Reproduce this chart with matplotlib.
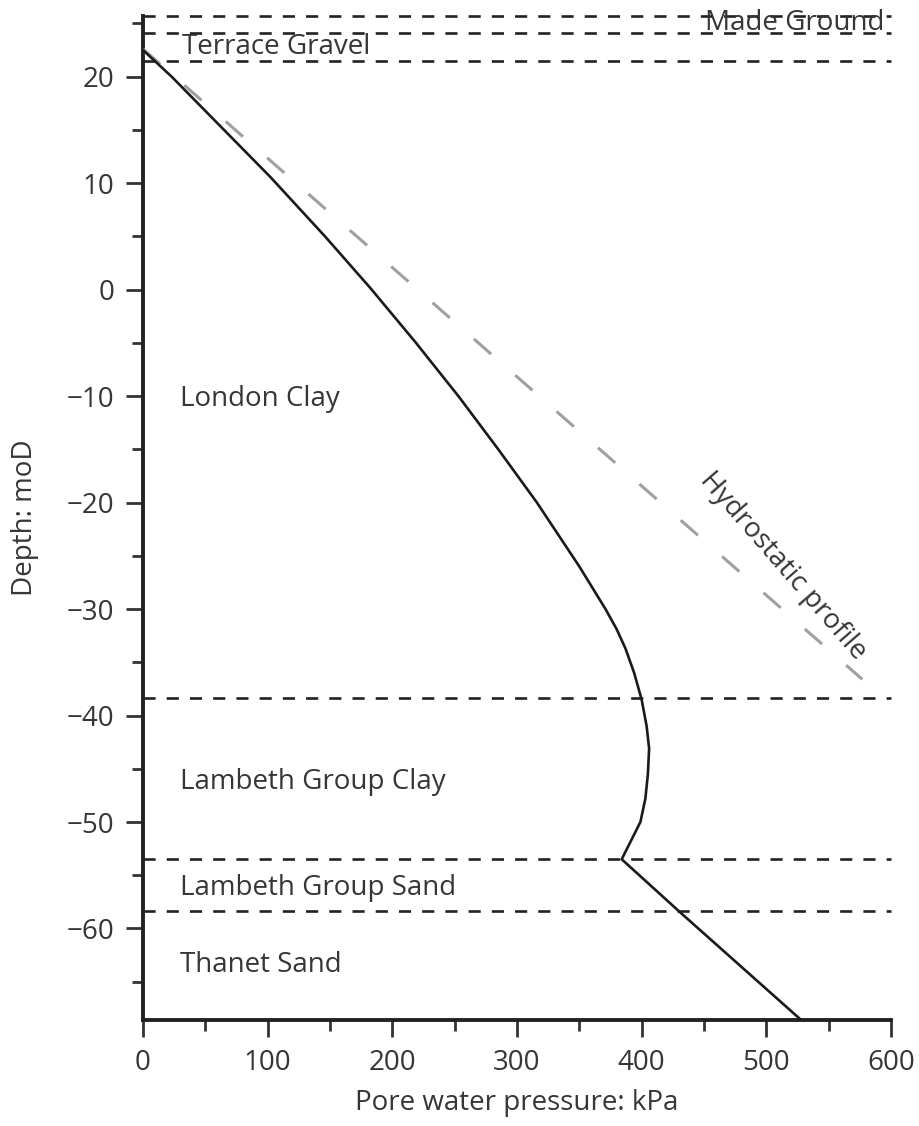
import numpy as np
import matplotlib
matplotlib.use("Agg")
import matplotlib.pyplot as plt
from matplotlib.ticker import MultipleLocator

pwp_kpa = [0, 23, 65, 102, 146, 182, 219, 238, 253, 285, 316, 350, 371, 380, 387, 394, 400,
           404, 406, 405, 403, 399, 384, 432, 528]
pwp_z = [22.5, 20.0, 15.0, 10.6, 5.0, 0.2, -5.0, -7.8, -10.0, -15.0, -20.0, -26.0, -30.0, -31.9,
         -33.7, -36.0, -38.5, -41.0, -43.1, -45.5, -47.8, -50.0, -53.5, -58.6, -68.6]

# hydrostatic line
hydro_kpa = [0, 577]
hydro_z = [22.6, -36.6]

# layer boundaries (mOD)
boundaries = [25.7, 24.1, 21.5, -38.4, -53.5, -58.4]

layer_names = ["Terrace Gravel", "London Clay", "Lambeth Group Clay", "Lambeth Group Sand", "Thanet Sand"]
layer_label_z = [22.8, -10.3, -46.2, -56.2, -63.4]

plt.rcParams['font.family'] = ['Open Sans', 'DejaVu Sans']
txt = "#363636"
fs = 20

fig = plt.figure(figsize=(9.19, 11.26), dpi=100)
ax = fig.add_axes([0.1556, 0.0941, 0.8139, 0.8917])

for zb in boundaries:
    ax.plot([0, 600], [zb, zb], color="#222222", lw=1.9, ls=(0, (4.6, 4.2)), clip_on=False, zorder=2)

ax.plot(hydro_kpa, hydro_z, color="#a0a0a0", lw=2.2, ls=(0, (7.5, 10.5)), zorder=3)
ax.plot(pwp_kpa, pwp_z, color="#1a1a1a", lw=1.9, zorder=4, solid_joinstyle="round")

for name, z in zip(layer_names, layer_label_z):
    ax.text(30 if name != "Terrace Gravel" else 31, z, name, fontsize=fs, color=txt, va="center", ha="left")
ax.text(595, 25.0, "Made Ground", fontsize=fs, color=txt, va="center", ha="right")
ax.text(513, -26.0, "Hydrostatic profile", fontsize=fs, color=txt, va="center", ha="center",
        rotation=-49, rotation_mode="anchor")

ax.set_xlim(0, 600)
ax.set_ylim(-68.6, 25.7)
ax.xaxis.set_major_locator(MultipleLocator(100))
ax.xaxis.set_minor_locator(MultipleLocator(50))
ax.yaxis.set_major_locator(MultipleLocator(10))
ax.yaxis.set_minor_locator(MultipleLocator(5))

for s in ["top", "right"]:
    ax.spines[s].set_visible(False)
for s in ["left", "bottom"]:
    ax.spines[s].set_linewidth(2.8)
    ax.spines[s].set_color("#222222")

ax.tick_params(which="major", length=12.5, width=2.0, color="#333333", labelsize=fs, labelcolor=txt, pad=8)
ax.tick_params(which="minor", length=8, width=2.0, color="#333333")

ax.set_xlabel("Pore water pressure: kPa", fontsize=fs, color=txt)
ax.set_ylabel("Depth: moD", fontsize=fs, color=txt)
ax.xaxis.set_label_coords(0.5, -0.069)
ax.yaxis.set_label_coords(-0.139, 0.5)

fig.savefig("out.png", dpi=100)
